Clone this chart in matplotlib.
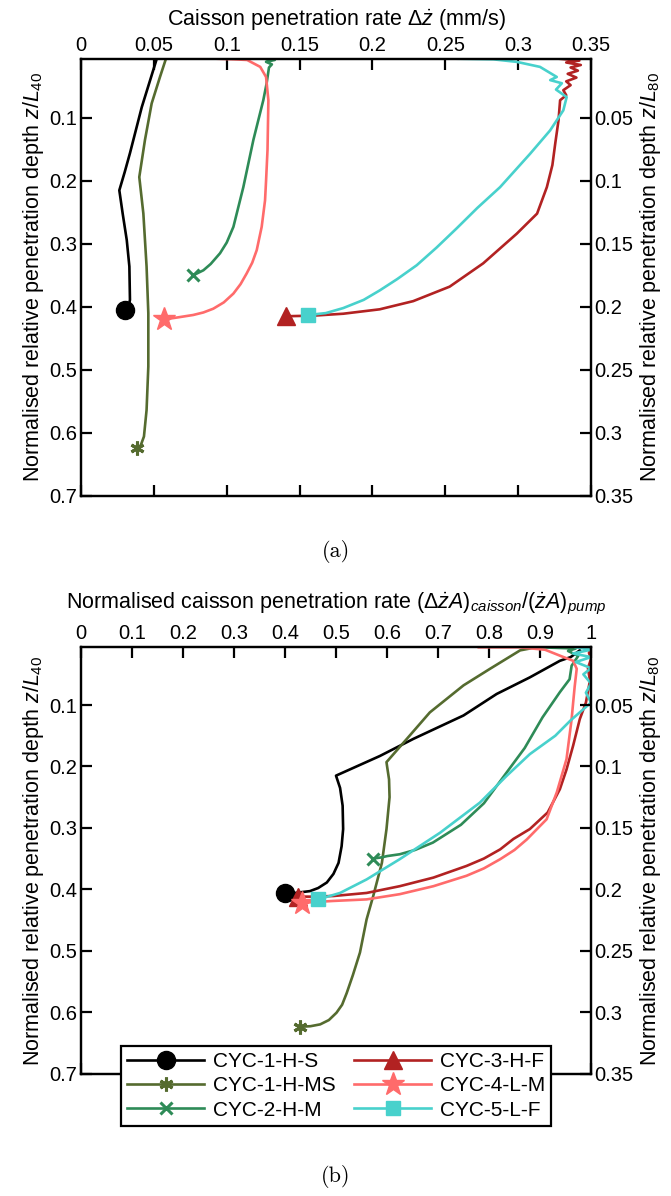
import numpy as np
import matplotlib
matplotlib.use("Agg")
import matplotlib.pyplot as plt
from matplotlib.ticker import FormatStrFormatter

plt.rcParams['font.family'] = ['Liberation Sans', 'DejaVu Sans']
plt.rcParams['mathtext.fontset'] = 'custom'
plt.rcParams['mathtext.rm'] = 'Liberation Sans'
plt.rcParams['mathtext.it'] = 'Liberation Sans:italic'
plt.rcParams['mathtext.bf'] = 'Liberation Sans:bold'

labels = ["CYC-1-H-S", "CYC-1-H-MS", "CYC-2-H-M", "CYC-3-H-F", "CYC-4-L-M", "CYC-5-L-F"]
colors = ["black", "#556b2f", "#2e8b57", "#b22222", "#ff6b6b", "#48d1cc"]

# (a) caisson penetration rate (mm/s) vs z/L40
a_s_x = [0.052, 0.0496, 0.0417, 0.0336, 0.030, 0.0263, 0.0286, 0.0314, 0.0332, 0.0336, 0.0325, 0.030]
a_s_y = [0.006, 0.024, 0.083, 0.156, 0.186, 0.215, 0.252, 0.294, 0.336, 0.389, 0.401, 0.405]
a_ms_x = [0.0583, 0.0542, 0.0485, 0.0439, 0.040, 0.0428, 0.045, 0.0462, 0.0462, 0.045, 0.0432, 0.041, 0.0382]
a_ms_y = [0.006, 0.035, 0.077, 0.135, 0.194, 0.252, 0.336, 0.41, 0.495, 0.564, 0.606, 0.62, 0.625]
a_m_x = [0.126, 0.133, 0.127, 0.131, 0.129, 0.1274, 0.1251, 0.1183, 0.1114, 0.1046, 0.1, 0.0954,
         0.089, 0.084, 0.077]
a_m_y = [0.006, 0.008, 0.011, 0.015, 0.02, 0.045, 0.072, 0.135, 0.21, 0.273, 0.298, 0.315,
         0.332, 0.342, 0.35]
a_f_x = [0.328, 0.342, 0.333, 0.343, 0.336, 0.341, 0.334, 0.340, 0.333, 0.336, 0.331, 0.333, 0.3288,
         0.3277, 0.3255, 0.3235, 0.3197, 0.313, 0.299, 0.276, 0.253, 0.228, 0.205, 0.18, 0.16, 0.141]
a_f_y = [0.006, 0.009, 0.012, 0.016, 0.02, 0.025, 0.03, 0.036, 0.042, 0.048, 0.056, 0.064, 0.072,
         0.104, 0.14, 0.175, 0.21, 0.252, 0.284, 0.331, 0.368, 0.391, 0.404, 0.411, 0.414, 0.415]
a_lm_x = [0.093, 0.105, 0.114, 0.123, 0.127, 0.1286, 0.128, 0.127, 0.1263, 0.124, 0.1206, 0.1175,
          0.1137, 0.1095, 0.1046, 0.098, 0.0908, 0.084, 0.077, 0.066, 0.057]
a_lm_y = [0.006, 0.007, 0.008, 0.019, 0.035, 0.072, 0.151, 0.2, 0.231, 0.273, 0.31, 0.33,
          0.347, 0.364, 0.379, 0.393, 0.403, 0.409, 0.413, 0.417, 0.42]
a_lf_x = [0.258, 0.283, 0.299, 0.315, 0.3265, 0.322, 0.33, 0.326, 0.3333, 0.331, 0.3219, 0.3082,
          0.2876, 0.272, 0.258, 0.244, 0.2304, 0.217, 0.205, 0.194, 0.18, 0.168, 0.156]
a_lf_y = [0.006, 0.007, 0.011, 0.019, 0.035, 0.04, 0.045, 0.055, 0.067, 0.088, 0.12, 0.157,
          0.21, 0.243, 0.275, 0.306, 0.334, 0.356, 0.374, 0.389, 0.402, 0.41, 0.413]

# (b) normalised caisson penetration rate vs z/L40
b_s_x = [0.978, 0.96, 0.939, 0.88, 0.815, 0.75, 0.652, 0.586, 0.50, 0.508, 0.513, 0.514, 0.511,
         0.505, 0.495, 0.482, 0.465, 0.449, 0.42, 0.40]
b_s_y = [0.011, 0.022, 0.028, 0.055, 0.082, 0.117, 0.155, 0.183, 0.215, 0.235, 0.264, 0.302, 0.33,
         0.357, 0.375, 0.389, 0.398, 0.403, 0.406, 0.406]
b_ms_x = [0.893, 0.861, 0.802, 0.75, 0.684, 0.639, 0.599, 0.600, 0.604, 0.605, 0.599, 0.59, 0.573,
          0.56, 0.547, 0.533, 0.521, 0.512, 0.501, 0.486, 0.469, 0.45, 0.429]
b_ms_y = [0.006, 0.011, 0.041, 0.068, 0.112, 0.155, 0.193, 0.199, 0.221, 0.25, 0.302, 0.357, 0.411,
          0.449, 0.503, 0.54, 0.569, 0.588, 0.601, 0.613, 0.62, 0.623, 0.624]
b_m_x = [0.90, 0.97, 0.955, 0.975, 0.962, 0.958, 0.939, 0.905, 0.87, 0.83, 0.79, 0.745, 0.69,
         0.655, 0.625, 0.60, 0.59, 0.573]
b_m_y = [0.006, 0.008, 0.012, 0.02, 0.036, 0.058, 0.079, 0.12, 0.17, 0.215, 0.26, 0.295, 0.324,
         0.336, 0.343, 0.346, 0.348, 0.35]
b_f_x = [1.0, 0.996, 1.0, 0.994, 0.998, 0.99, 0.978, 0.965, 0.952, 0.939, 0.915, 0.88, 0.848,
         0.822, 0.79, 0.756, 0.691, 0.625, 0.56, 0.495, 0.45, 0.426]
b_f_y = [0.006, 0.015, 0.025, 0.04, 0.06, 0.096, 0.123, 0.166, 0.205, 0.237, 0.275, 0.302, 0.318,
         0.335, 0.35, 0.362, 0.381, 0.395, 0.406, 0.411, 0.412, 0.412]
b_lm_x = [0.78, 0.86, 0.91, 0.939, 0.965, 0.972, 0.968, 0.965, 0.962, 0.952, 0.933, 0.913, 0.874,
          0.85, 0.822, 0.79, 0.756, 0.691, 0.625, 0.56, 0.495, 0.433]
b_lm_y = [0.006, 0.006, 0.01, 0.0196, 0.028, 0.041, 0.07, 0.096, 0.123, 0.188, 0.242, 0.286, 0.319,
          0.336, 0.351, 0.366, 0.378, 0.395, 0.408, 0.4165, 0.419, 0.422]
b_lf_x = [0.97, 1.0, 0.965, 1.0, 0.97, 1.0, 0.985, 1.0, 0.99, 1.0, 0.96, 0.93, 0.88, 0.835, 0.782,
          0.704, 0.625, 0.56, 0.508, 0.465]
b_lf_y = [0.006, 0.01, 0.016, 0.022, 0.03, 0.04, 0.05, 0.065, 0.08, 0.096, 0.125, 0.15, 0.18, 0.215,
          0.259, 0.308, 0.351, 0.384, 0.406, 0.4165]

markers = ['o', (6, 2, 0), 'x', '^', '*', 's']
msizes = [13, 10, 9, 13, 17, 10]

series_a = [(a_s_x, a_s_y), (a_ms_x, a_ms_y), (a_m_x, a_m_y), (a_f_x, a_f_y), (a_lm_x, a_lm_y), (a_lf_x, a_lf_y)]
series_b = [(b_s_x, b_s_y), (b_ms_x, b_ms_y), (b_m_x, b_m_y), (b_f_x, b_f_y), (b_lm_x, b_lm_y), (b_lf_x, b_lf_y)]

fig = plt.figure(figsize=(6.71, 11.96), dpi=100)
ax1 = fig.add_axes([81 / 671, 1 - 495.7 / 1196, 510 / 671, 437 / 1196])
ax2 = fig.add_axes([81 / 671, 1 - 1073.5 / 1196, 510 / 671, 426.2 / 1196])

def draw(ax, series):
    handles = []
    for (x, y), c, m, ms, lab in zip(series, colors, markers, msizes, labels):
        h, = ax.plot(x, y, color=c, lw=1.9, marker=m, ms=ms, mew=2.2 if m in ('x', (6, 2, 0)) else 1,
                     markevery=[len(x) - 1], label=lab, solid_joinstyle='round')
        handles.append(h)
    return handles

def style(ax, xmax, xticks, xlabel, pad):
    ax.set_xlim(0, xmax)
    ax.set_ylim(0.7, 0.006)
    ax.set_xticks(xticks)
    ax.set_yticks([0.1, 0.2, 0.3, 0.4, 0.5, 0.6, 0.7])
    ax.xaxis.set_major_formatter(FormatStrFormatter('%g'))
    ax.yaxis.set_major_formatter(FormatStrFormatter('%g'))
    ax.tick_params(axis='both', direction='in', length=8, width=1.6, labelsize=14.5,
                   top=True, bottom=True, labeltop=True, labelbottom=False, right=False, pad=3)
    ax.xaxis.set_label_position('top')
    ax.set_xlabel(xlabel, fontsize=15.5, labelpad=pad)
    ax.set_ylabel(r"Normalised relative penetration depth $\mathit{z/L_{40}}$", fontsize=15.5, labelpad=2)
    for s in ax.spines.values():
        s.set_linewidth(1.6)
    tw = ax.twinx()
    tw.set_ylim(0.35, 0.003)
    tw.set_yticks([0.05, 0.1, 0.15, 0.2, 0.25, 0.3, 0.35])
    tw.yaxis.set_major_formatter(FormatStrFormatter('%g'))
    tw.tick_params(axis='y', direction='in', length=8, width=1.6, labelsize=14.5, pad=2)
    tw.set_ylabel(r"Normalised relative penetration depth $\mathit{z/L_{80}}$", fontsize=15.5, labelpad=4)
    for s in tw.spines.values():
        s.set_linewidth(1.6)
    return tw

draw(ax1, series_a)
style(ax1, 0.35, [0, 0.05, 0.1, 0.15, 0.2, 0.25, 0.3, 0.35],
      r"Caisson penetration rate $\mathit{\Delta\dot{z}}$ (mm/s)", 7)
hb = draw(ax2, series_b)
tw2 = style(ax2, 1.0, np.round(np.arange(0, 1.01, 0.1), 1),
            r"Normalised caisson penetration rate $\mathit{(\Delta\dot{z}A)_{caisson}/(\dot{z}A)_{pump}}$", 11)

leg = tw2.legend(hb, labels, ncol=2, loc='center',
                 bbox_to_anchor=(0.5, -0.029), fontsize=15, frameon=True, fancybox=False,
                 edgecolor='black', framealpha=1, handlelength=3.7, columnspacing=0.9,
                 handletextpad=0.4, labelspacing=0.25, borderpad=0.3, borderaxespad=0, numpoints=1)
leg.get_frame().set_linewidth(1.6)
leg.set_zorder(10)

fig.text(336 / 671, 1 - 551 / 1196, "(a)", family='cmr10', fontsize=16, ha='center', va='center')
fig.text(336 / 671, 1 - 1177 / 1196, "(b)", family='cmr10', fontsize=16, ha='center', va='center')

fig.savefig("out.png", dpi=100)
